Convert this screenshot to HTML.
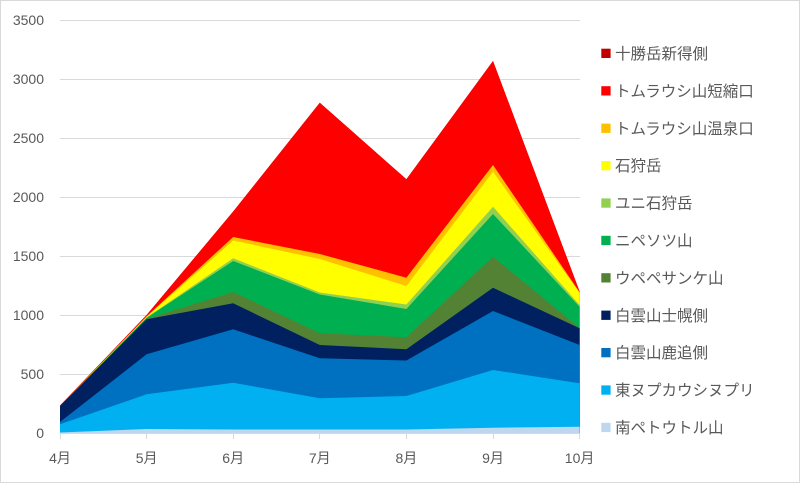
<!DOCTYPE html>
<html><head><meta charset="utf-8"><style>
html,body{margin:0;padding:0;background:#fff;}
svg{display:block;}
text{font-family:"Liberation Sans","Noto Sans CJK JP",sans-serif;fill:#595959;}
</style></head><body>
<svg width="800" height="483" viewBox="0 0 800 483" xmlns="http://www.w3.org/2000/svg">
<rect x="0.5" y="0.5" width="799" height="482" fill="#fff" stroke="#D9D9D9"/>
<!-- gridlines -->
<g stroke="#D9D9D9" stroke-width="1">
<line x1="60" y1="374.5" x2="580" y2="374.5"/>
<line x1="60" y1="315.5" x2="580" y2="315.5"/>
<line x1="60" y1="256.5" x2="580" y2="256.5"/>
<line x1="60" y1="197.5" x2="580" y2="197.5"/>
<line x1="60" y1="138.5" x2="580" y2="138.5"/>
<line x1="60" y1="79.5" x2="580" y2="79.5"/>
<line x1="60" y1="20.5" x2="580" y2="20.5"/>
</g>
<!-- areas, drawn top-down -->
<g>
<polygon fill="#C00000" points="60,433 60,405.5 146.6,315 233.2,211.5 319.8,102.7 406.4,179.3 493,61 579.6,291.5 579.6,433"/>
<polygon fill="#FF0000" points="60,433 60,405.5 146.6,315 233.2,211.5 319.8,102.7 406.4,179.3 493,61 579.6,291.5 579.6,433"/>
<polygon fill="#FFC000" points="60,433 60,406 146.6,316.4 233.2,237 319.8,254 406.4,277.7 493,165 579.6,292.2 579.6,433"/>
<polygon fill="#FFFF00" points="60,433 60,406 146.6,316.8 233.2,240.5 319.8,259 406.4,286 493,171.7 579.6,293 579.6,433"/>
<polygon fill="#92D050" points="60,433 60,406 146.6,317.5 233.2,258.3 319.8,292.5 406.4,304.5 493,206.7 579.6,305 579.6,433"/>
<polygon fill="#00B050" points="60,433 60,406 146.6,317.8 233.2,261 319.8,294.5 406.4,309 493,214 579.6,306.7 579.6,433"/>
<polygon fill="#548235" points="60,433 60,406 146.6,318.8 233.2,292 319.8,333.3 406.4,337.3 493,256.7 579.6,328 579.6,433"/>
<polygon fill="#002060" points="60,433 60,406 146.6,319.3 233.2,303.3 319.8,345 406.4,349.2 493,287.7 579.6,328.3 579.6,433"/>
<polygon fill="#0070C0" points="60,433 60,422 146.6,354.3 233.2,329.3 319.8,358.3 406.4,360.5 493,311 579.6,345 579.6,433"/>
<polygon fill="#00B0F0" points="60,433 60,424.3 146.6,394.3 233.2,382.7 319.8,398.3 406.4,396 493,370 579.6,383.3 579.6,433"/>
<polygon fill="#BDD7EE" points="60,433 60,432.5 146.6,429 233.2,429.5 319.8,429.5 406.4,429.5 493,427.7 579.6,426.7 579.6,433"/>
</g>
<!-- x axis -->
<g stroke="#D9D9D9" stroke-width="1">
<line x1="60" y1="433.5" x2="580" y2="433.5"/>
<line x1="60.5" y1="433" x2="60.5" y2="439"/>
<line x1="146.5" y1="433" x2="146.5" y2="439"/>
<line x1="233.5" y1="433" x2="233.5" y2="439"/>
<line x1="319.5" y1="433" x2="319.5" y2="439"/>
<line x1="406.5" y1="433" x2="406.5" y2="439"/>
<line x1="493.5" y1="433" x2="493.5" y2="439"/>
<line x1="579.5" y1="433" x2="579.5" y2="439"/>
</g>
<!-- y labels -->
<g font-size="14" text-anchor="end">
<text x="44" y="438">0</text>
<text x="44" y="379">500</text>
<text x="44" y="320">1000</text>
<text x="44" y="261">1500</text>
<text x="44" y="202">2000</text>
<text x="44" y="143">2500</text>
<text x="44" y="84">3000</text>
<text x="44" y="25">3500</text>
</g>
<!-- x labels -->
<g font-size="14" text-anchor="middle">
<text x="60" y="463">4月</text>
<text x="146.6" y="463">5月</text>
<text x="233.2" y="463">6月</text>
<text x="319.8" y="463">7月</text>
<text x="406.4" y="463">8月</text>
<text x="493" y="463">9月</text>
<text x="579.6" y="463">10月</text>
</g>
<!-- legend -->
<g font-size="15.5">
<rect x="601.3" y="48.7" width="9.3" height="9.3" fill="#C00000"/><text x="615" y="59">十勝岳新得側</text>
<rect x="601.3" y="86.2" width="9.3" height="9.3" fill="#FF0000"/><text x="615" y="96.4">トムラウシ山短縮口</text>
<rect x="601.3" y="123.6" width="9.3" height="9.3" fill="#FFC000"/><text x="615" y="133.8">トムラウシ山温泉口</text>
<rect x="601.3" y="161" width="9.3" height="9.3" fill="#FFFF00"/><text x="615" y="171.2">石狩岳</text>
<rect x="601.3" y="198.4" width="9.3" height="9.3" fill="#92D050"/><text x="615" y="208.6">ユニ石狩岳</text>
<rect x="601.3" y="235.8" width="9.3" height="9.3" fill="#00B050"/><text x="615" y="246">ニペソツ山</text>
<rect x="601.3" y="273.2" width="9.3" height="9.3" fill="#548235"/><text x="615" y="283.4">ウペペサンケ山</text>
<rect x="601.3" y="310.6" width="9.3" height="9.3" fill="#002060"/><text x="615" y="320.8">白雲山士幌側</text>
<rect x="601.3" y="348" width="9.3" height="9.3" fill="#0070C0"/><text x="615" y="358.2">白雲山鹿追側</text>
<rect x="601.3" y="385.4" width="9.3" height="9.3" fill="#00B0F0"/><text x="615" y="395.6">東ヌプカウシヌプリ</text>
<rect x="601.3" y="422.8" width="9.3" height="9.3" fill="#BDD7EE"/><text x="615" y="433">南ペトウトル山</text>
</g>
</svg>
</body></html>
